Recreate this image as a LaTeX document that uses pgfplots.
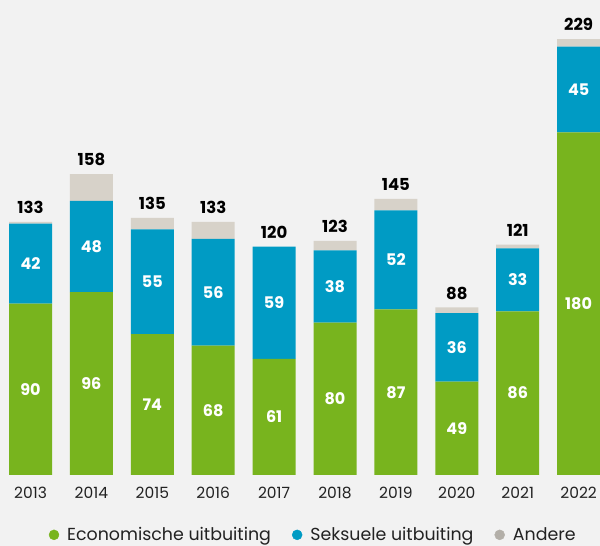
\documentclass[border=0pt]{standalone}
\usepackage{fontspec}
\setmainfont{Poppins}
\usepackage{pgfplots}
\pgfplotsset{compat=1.18}
\usepackage{pgfplotstable}
\definecolor{eco}{HTML}{78B41E}
\definecolor{sex}{HTML}{009BC4}
\definecolor{oth}{HTML}{D7D2C9}
\definecolor{othdot}{HTML}{B3AFA8}
\definecolor{bg}{HTML}{F2F2F2}
\definecolor{txt}{HTML}{222222}
\pgfplotstableread{
idx eco sex oth tot top
0 90 42 1 133 0.01
1 96 48 14 158 0.01
2 74 55 6 135 0.01
3 68 56 9 133 0.01
4 61 59 0 120 0.01
5 80 38 5 123 0.01
6 87 52 6 145 0.01
7 49 36 3 88 0.01
8 86 33 2 121 0.01
9 180 45 4 229 0.01
}\data
\begin{document}
\begin{tikzpicture}
\fill[bg] (0,0) rectangle (600pt,546pt);
\useasboundingbox (0,0) rectangle (600pt,546pt);
\begin{axis}[
  at={(0pt,71pt)}, anchor=south west,
  scale only axis, width=600pt, height=475pt,
  xmin=-0.501, xmax=9.351, ymin=0, ymax=249.5,
  ybar stacked, bar width=0.706,
  axis line style={draw=none},
  major tick length=0pt,
  ytick=\empty,
  xtick={0,...,9},
  xticklabels={2013,2014,2015,2016,2017,2018,2019,2020,2021,2022},
  xticklabel style={font=\fontsize{15.5}{15.5}\selectfont, text=txt, yshift=-8.5pt},
  /pgf/number format/assume math mode=true,
  clip=false,
  legend style={at={(0.522,-0.126)}, anchor=center, draw=none, fill=none,
    legend columns=-1, font=\fontsize{17.4}{17.4}\selectfont, text=txt,
    /tikz/every odd column/.append style={column sep=6pt},
    /tikz/every even column/.append style={column sep=19pt}},
]
\addplot[fill=eco, draw=none, forget plot, point meta=rawy, nodes near coords,
  every node near coord/.append style={text=white, font=\bfseries\fontsize{16}{16}\selectfont, anchor=center}]
  table[x=idx, y=eco]{\data};
\addplot[fill=sex, draw=none, forget plot, point meta=rawy, nodes near coords,
  every node near coord/.append style={text=white, font=\bfseries\fontsize{16}{16}\selectfont, anchor=center}]
  table[x=idx, y=sex]{\data};
\addplot[fill=oth, draw=none, forget plot]
  table[x=idx, y=oth]{\data};
\addplot[fill=none, draw=none, forget plot, point meta=explicit, nodes near coords,
  every node near coord/.append style={text=black, font=\bfseries\fontsize{16.5}{16.5}\selectfont, anchor=south, yshift=4.5pt}]
  table[x=idx, y=top, meta=tot]{\data};
\addlegendimage{legend image code/.code={\fill[eco] (0pt,0pt) circle (5pt);}}
\addlegendentry{Economische uitbuiting}
\addlegendimage{legend image code/.code={\fill[sex] (0pt,0pt) circle (5pt);}}
\addlegendentry{Seksuele uitbuiting}
\addlegendimage{legend image code/.code={\fill[othdot] (0pt,0pt) circle (5pt);}}
\addlegendentry{Andere}
\end{axis}
\end{tikzpicture}
\end{document}
